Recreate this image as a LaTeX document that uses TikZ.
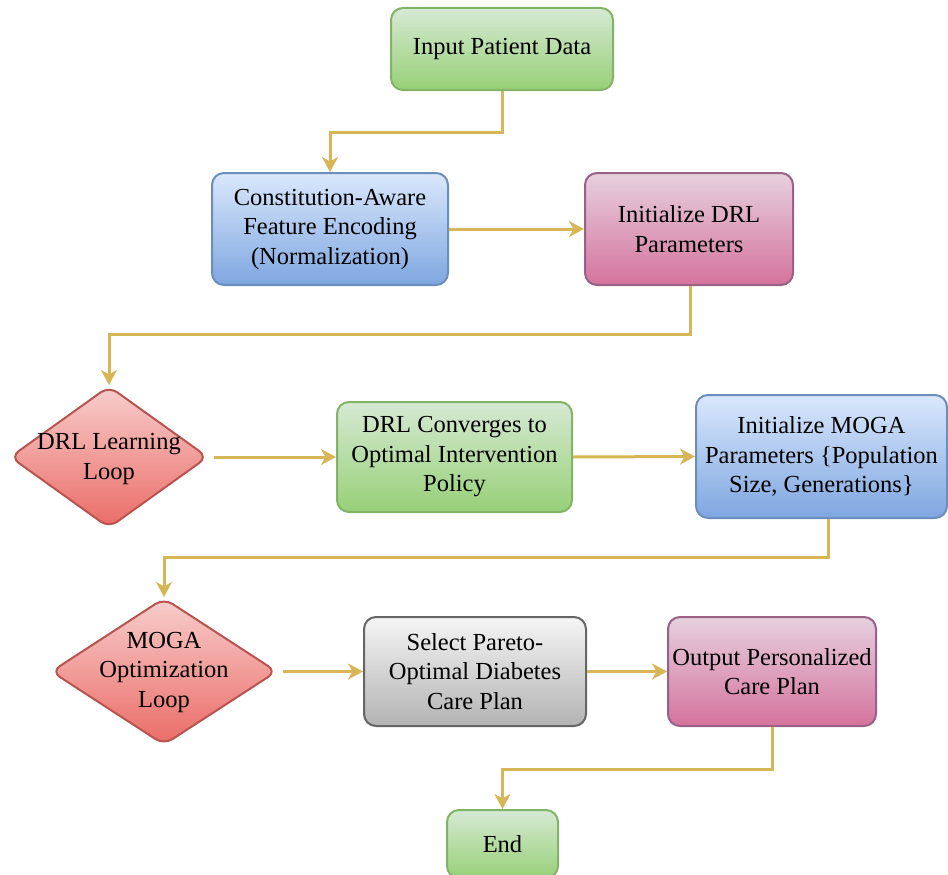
\documentclass[tikz,border=0pt]{standalone}
\usepackage{fontspec}
\setmainfont{Liberation Serif}
\usetikzlibrary{shapes.geometric,arrows.meta}
\definecolor{gS}{HTML}{82B366}\definecolor{gT}{RGB}{214,233,212}\definecolor{gB}{RGB}{151,208,119}
\definecolor{bS}{HTML}{6C8EBF}\definecolor{bT}{RGB}{218,232,252}\definecolor{bB}{RGB}{126,166,224}
\definecolor{pS}{HTML}{996185}\definecolor{pT}{RGB}{230,208,222}\definecolor{pB}{RGB}{213,115,157}
\definecolor{rS}{HTML}{B85450}\definecolor{rT}{RGB}{248,206,204}\definecolor{rB}{RGB}{234,107,102}
\definecolor{kS}{HTML}{666666}\definecolor{kT}{RGB}{245,245,245}\definecolor{kB}{RGB}{179,179,179}
\definecolor{arr}{HTML}{D6B656}
\begin{document}
\begin{tikzpicture}[x=1pt,y=-1pt,
  txt/.style={align=center,inner sep=0pt,font=\fontsize{24.5}{29.5}\selectfont},
  box/.style={txt,rectangle,rounded corners=12pt,line width=2pt},
  gbox/.style={box,draw=gS,top color=gT,bottom color=gB},
  bbox/.style={box,draw=bS,top color=bT,bottom color=bB},
  pbox/.style={box,draw=pS,top color=pT,bottom color=pB},
  kbox/.style={box,draw=kS,top color=kT,bottom color=kB},
  dia/.style={diamond,rounded corners=10pt,line width=2pt,inner sep=0pt,draw=rS,top color=rT,bottom color=rB},
  flow/.style={draw=arr,line width=3pt,-{Stealth[length=15pt,width=16pt,inset=4.5pt]}}]
\useasboundingbox (0,0) rectangle (948,875);

\node[gbox,minimum width=222pt,minimum height=82pt] (in) at (502,49) {Input Patient Data};
\node[bbox,minimum width=236pt,minimum height=112pt] (ce) at (330,229) {Constitution-Aware\\Feature Encoding\\(Normalization)};
\node[pbox,minimum width=208pt,minimum height=112pt] (id) at (689,229) {Initialize DRL\\Parameters};

\node[dia,minimum width=198pt,minimum height=142pt] (d1) at (109,457) {};
\node[txt] (d1t) at (109,459) {DRL Learning\\Loop};
\node[gbox,minimum width=235pt,minimum height=110pt] (dc) at (454.5,457) {DRL Converges to\\Optimal Intervention\\Policy};
\node[bbox,minimum width=251pt,minimum height=123pt] (mp) at (821.5,456.5) {Initialize MOGA\\Parameters \{Population\\Size, Generations\}};

\node[dia,minimum width=226pt,minimum height=147pt] (d2) at (164,671.5) {};
\node[txt] (d2t) at (164,672) {MOGA\\Optimization\\Loop};
\node[kbox,minimum width=222pt,minimum height=109pt] (sp) at (475,671.5) {Select Pareto-\\Optimal Diabetes\\Care Plan};
\node[pbox,minimum width=208pt,minimum height=109pt] (op) at (772,671.5) {Output Personalized\\Care Plan};

\node[gbox,minimum width=111pt,minimum height=68pt] (en) at (502.5,844) {End};

\draw[flow] (in.south) -- ++(0,41) -| (ce.north);
\draw[flow] (ce.east) -- (id.west);
\draw[flow] ([xshift=1pt]id.south) -- ++(0,48) -| (d1.north);
\draw[flow,shorten <=5pt] (d1.east) -- (dc.west);
\draw[flow] (dc.east) -- (mp.west);
\draw[flow] ([xshift=6.5pt]mp.south) -- ++(0,38.5) -| (d2.north);
\draw[flow,shorten <=5pt] (d2.east) -- (sp.west);
\draw[flow] (sp.east) -- (op.west);
\draw[flow] (op.south) -- ++(0,42) -| (en.north);
\end{tikzpicture}
\end{document}
